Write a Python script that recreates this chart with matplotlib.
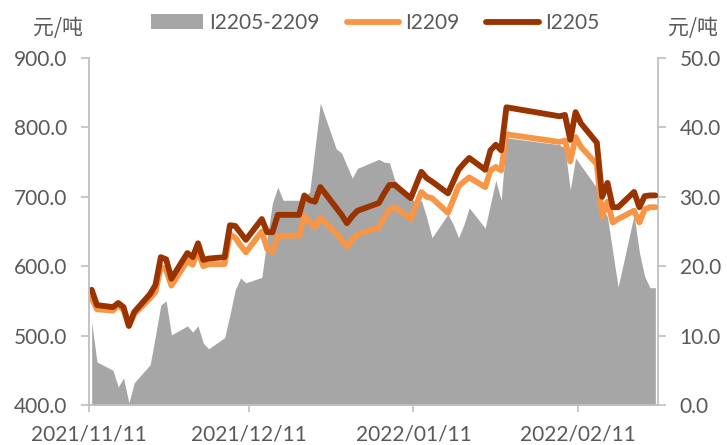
import matplotlib
matplotlib.use("Agg")
import matplotlib.pyplot as plt
import matplotlib.dates as mdates
from matplotlib.patches import Patch
from matplotlib.lines import Line2D
from matplotlib.ticker import FormatStrFormatter
import pandas as pd

dates = ["2021-11-11","2021-11-12","2021-11-15","2021-11-16","2021-11-17","2021-11-18","2021-11-19",
         "2021-11-22","2021-11-23","2021-11-24","2021-11-25","2021-11-26","2021-11-29","2021-11-30",
         "2021-12-01","2021-12-02","2021-12-03","2021-12-06","2021-12-07","2021-12-08","2021-12-09",
         "2021-12-10","2021-12-13","2021-12-14","2021-12-15","2021-12-16","2021-12-17","2021-12-20",
         "2021-12-21","2021-12-22","2021-12-23","2021-12-24","2021-12-27","2021-12-28","2021-12-29",
         "2021-12-30","2021-12-31","2022-01-04","2022-01-05","2022-01-06","2022-01-07","2022-01-10",
         "2022-01-11","2022-01-12","2022-01-13","2022-01-14","2022-01-17","2022-01-18","2022-01-19",
         "2022-01-20","2022-01-21","2022-01-24","2022-01-25","2022-01-26","2022-01-27","2022-01-28",
         "2022-02-07","2022-02-08","2022-02-09","2022-02-10","2022-02-11","2022-02-14","2022-02-15",
         "2022-02-16","2022-02-17","2022-02-18","2022-02-21","2022-02-22","2022-02-23","2022-02-24",
         "2022-02-25"]

i2205 = [566, 544, 541, 547, 541, 514, 534, 560, 573, 613, 610, 582, 619, 613,
         633, 609, 611, 613, 659, 658, 648, 638, 668, 649, 649, 674, 674, 674, 702, 695, 693, 714,
         684, 674, 662, 672, 680,
         691, 705, 717, 717, 698, 717, 736, 727, 722, 705, 722, 739, 748, 756, 739, 767, 775, 767, 829,
         816, 818, 782, 822, 806, 778, 700, 720, 685, 685, 707, 685, 701, 702, 702]

i2209 = [554, 538, 536, 544, 537, 514, 531, 554, 563, 599, 595, 572, 608, 602,
         622, 600, 603, 603, 646, 641, 630, 620, 650, 625, 620, 643, 644, 644, 672, 664, 656, 670,
         647, 638, 628, 639, 646,
         656, 670, 682, 685, 668, 688, 707, 700, 698, 677, 696, 715, 722, 728, 714, 738, 743, 738, 790,
         779, 781, 751, 786, 772, 747, 672, 693, 663, 668, 680, 663, 682, 685, 685]

spread = [12.0, 6.2, 5.0, 2.6, 3.9, 0.3, 3.2, 5.8, 10.0, 14.4, 15.0, 10.1, 11.4, 10.5,
          11.4, 8.9, 8.1, 9.7, 13.0, 16.6, 18.3, 17.6, 18.4, 24.0, 29.1, 31.4, 29.5, 29.5, 30.0, 30.7,
          37.0, 43.5, 36.9, 36.3, 34.5, 32.7, 34.1,
          35.4, 35.0, 34.9, 32.4, 30.0, 29.0, 29.5, 27.0, 24.1, 27.5, 26.0, 24.1, 26.0, 28.4, 25.5,
          29.0, 32.4, 29.5, 38.5,
          37.5, 37.0, 31.0, 35.6, 34.5, 31.3, 28.5, 27.1, 22.0, 17.0, 27.4, 22.0, 18.5, 16.9, 16.9]

tick_dates = ["2021-11-11", "2021-12-11", "2022-01-11", "2022-02-11"]
left_ticks = [400, 500, 600, 700, 800, 900]
right_ticks = [0, 10, 20, 30, 40, 50]
unit = "元/吨"
labels = ["I2205-2209", "I2209", "I2205"]

TXT = "#595959"
AX = "#bfbfbf"
GRAY = "#a6a6a6"
ORANGE = "#f79646"
BROWN = "#993300"
FONT = ["Lato", "DejaVu Sans"]
CJK = ["Noto Sans CJK SC", "DejaVu Sans"]
FS = 15

plt.rcParams["font.family"] = FONT

x = pd.to_datetime(dates) + pd.Timedelta(hours=12)

fig = plt.figure(figsize=(7.27, 4.45), dpi=100)
ax = fig.add_axes([89/727, 1-405/445, (658-89)/727, (405-58)/445])
ax2 = ax.twinx()
ax.set_zorder(ax2.get_zorder() + 1)
ax.patch.set_visible(False)

ax2.fill_between(x, 0, spread, color=GRAY, linewidth=0)
ax.plot(x, i2209, color=ORANGE, lw=4.2, solid_joinstyle="round", solid_capstyle="round")
ax.plot(x, i2205, color=BROWN, lw=4.2, solid_joinstyle="round", solid_capstyle="round")

ax.set_xlim(pd.Timestamp("2021-11-11"), pd.Timestamp("2022-02-26"))
ax.set_ylim(400, 900)
ax2.set_ylim(0, 50)
ax.set_yticks(left_ticks)
ax2.set_yticks(right_ticks)
ax.yaxis.set_major_formatter(FormatStrFormatter("%.1f"))
ax2.yaxis.set_major_formatter(FormatStrFormatter("%.1f"))
ax.set_xticks(pd.to_datetime(tick_dates))
ax.xaxis.set_major_formatter(mdates.DateFormatter("%Y/%m/%d"))

for a in (ax, ax2):
    for s in a.spines.values():
        s.set_visible(False)
ax.spines["left"].set_visible(True)
ax.spines["bottom"].set_visible(True)
ax2.spines["right"].set_visible(True)
for s in (ax.spines["left"], ax.spines["bottom"], ax2.spines["right"]):
    s.set_color(AX)
    s.set_linewidth(1.3)

ax.tick_params(axis="y", colors=AX, labelcolor=TXT, labelsize=FS, length=5.5, width=1.2, pad=10)
ax2.tick_params(axis="y", colors=AX, labelcolor=TXT, labelsize=FS, length=5.5, width=1.2, pad=10)
ax.tick_params(axis="x", colors=AX, labelcolor=TXT, labelsize=FS, length=5, width=1.2, pad=9)

fig.text(58/727, 1-28/445, unit, ha="center", va="center", fontsize=FS, color=TXT, family=CJK)
fig.text(693/727, 1-28/445, unit, ha="center", va="center", fontsize=FS, color=TXT, family=CJK)

handles = [Patch(facecolor=GRAY, edgecolor="none"),
           Line2D([0], [0], color=ORANGE, lw=4.2, solid_capstyle="round"),
           Line2D([0], [0], color=BROWN, lw=4.2, solid_capstyle="round")]
fig.legend(handles, labels, loc="center", bbox_to_anchor=(375/727, 1-23/445), ncol=3,
           frameon=False, fontsize=FS, labelcolor=TXT, handlelength=2.5, handletextpad=0.3,
           columnspacing=1.3, borderaxespad=0, borderpad=0)

fig.savefig("out.png", dpi=100)
